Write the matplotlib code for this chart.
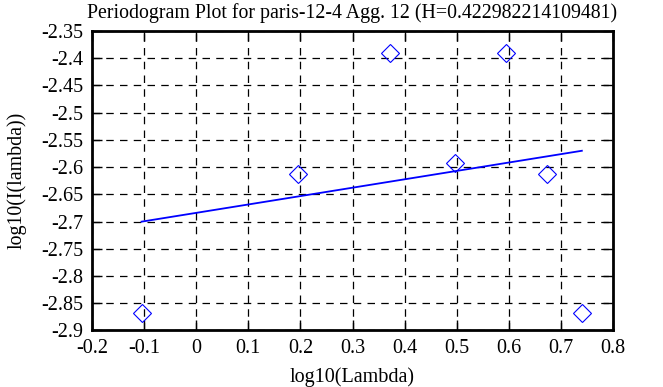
import matplotlib
matplotlib.use("Agg")
import matplotlib.pyplot as plt
import numpy as np
from matplotlib.ticker import FuncFormatter

# periodogram points (log10 of frequency vs log10 of intensity)
log_lambda = np.log10(2 * np.pi * np.arange(1, 8) / 8)
log_intensity = [-2.867, -2.612, -2.390, -2.592, -2.390, -2.612, -2.867]

# fitted line: slope = 1 - 2H
H = 0.422982214109481
intercept = -2.684

x_ticks = [-0.2, -0.1, 0, 0.1, 0.2, 0.3, 0.4, 0.5, 0.6, 0.7, 0.8]
y_ticks = [-2.9, -2.85, -2.8, -2.75, -2.7, -2.65, -2.6, -2.55, -2.5, -2.45, -2.4, -2.35]

plt.rcParams['font.family'] = ['Liberation Serif', 'DejaVu Serif']

fig = plt.figure(figsize=(6.63, 3.87), dpi=100)
ax = fig.add_axes([0.1388, 0.146, 0.7858, 0.774])

ax.plot(log_lambda, log_intensity, linestyle='none', marker='D', markersize=9,
        markerfacecolor='none', markeredgecolor='#0000ff', markeredgewidth=0.8)

fit_x = np.array([log_lambda[0], log_lambda[-1]])
ax.plot(fit_x, intercept + (1 - 2 * H) * fit_x, color='#0000ff', linewidth=1.3)

ax.set_xlim(-0.2, 0.8)
ax.set_ylim(-2.9, -2.35)
ax.set_xticks(x_ticks)
ax.set_yticks(y_ticks)
fmt = FuncFormatter(lambda v, p: '%g' % round(v, 3))
ax.xaxis.set_major_formatter(fmt)
ax.yaxis.set_major_formatter(fmt)

ax.grid(True, color='black', linestyle=(0, (6, 5)), linewidth=0.9)
ax.tick_params(direction='in', length=7, width=1, top=True, right=True,
               labelsize=14.5, pad=6, colors='black')
for s in ax.spines.values():
    s.set_linewidth(2)

ax.set_title("Periodogram Plot for paris-12-4 Agg. 12 (H=0.422982214109481)",
             fontsize=14.3, pad=9)
ax.set_xlabel("log10(Lambda)", fontsize=14.5, labelpad=7)
ax.set_ylabel("log10(I(lambda))", fontsize=14.3, labelpad=11)

fig.savefig("out.png", dpi=100)
